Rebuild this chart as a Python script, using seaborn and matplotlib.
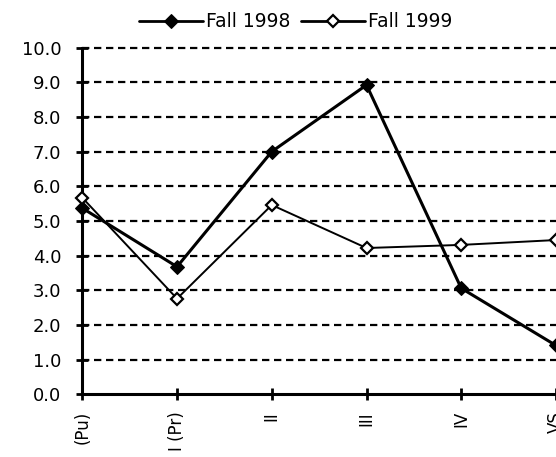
import matplotlib
matplotlib.use("Agg")
import matplotlib.pyplot as plt
import seaborn as sns
import pandas as pd

categories = ["(Pu)", "I (Pr)", "II", "III", "IV", "VS"]
fall_1998 = [5.37, 3.68, 7.0, 8.92, 3.06, 1.41]
fall_1999 = [5.67, 2.76, 5.46, 4.22, 4.31, 4.45]
y_ticks = [0, 1, 2, 3, 4, 5, 6, 7, 8, 9, 10]

sns.set_theme(style="white")
plt.rcParams['font.family'] = ['DejaVu Sans']
plt.rcParams['text.color'] = 'black'

df = pd.DataFrame({
    "cat": list(range(len(categories))) * 2,
    "value": fall_1998 + fall_1999,
    "series": ["Fall 1998"] * len(categories) + ["Fall 1999"] * len(categories),
})

fig = plt.figure(figsize=(5.56, 4.57), dpi=100)
ax = fig.add_axes([0.148, 0.137, 0.852, 0.759])

for yv in y_ticks[1:]:
    ax.axhline(yv, color="black", lw=1.6, ls=(0, (3.3, 2.1)), zorder=1, clip_on=False)

d98 = df[df.series == "Fall 1998"]
d99 = df[df.series == "Fall 1999"]
sns.lineplot(data=d98, x="cat", y="value", ax=ax, color="black", lw=2.2,
             marker="D", markersize=7.5, markerfacecolor="black",
             markeredgecolor="black", label="Fall 1998", zorder=6, clip_on=False)
sns.lineplot(data=d99, x="cat", y="value", ax=ax, color="black", lw=1.4,
             marker="D", markersize=6.5, markerfacecolor="white",
             markeredgecolor="black", markeredgewidth=1.6, label="Fall 1999", zorder=7,
             clip_on=False)

ax.set_xlim(0, 5)
ax.set_ylim(0, 10)
ax.set_xticks(range(len(categories)))
ax.set_xticklabels(categories, rotation=90, fontsize=12)
ax.set_yticks(y_ticks)
ax.set_yticklabels([f"{v:.1f}" for v in y_ticks], fontsize=13)
ax.set_xlabel("")
ax.set_ylabel("")
for s in ["top", "right"]:
    ax.spines[s].set_visible(False)
for s in ["left", "bottom"]:
    ax.spines[s].set_color("black")
    ax.spines[s].set_linewidth(2.2)
    ax.spines[s].set_zorder(5)
ax.tick_params(axis="both", direction="inout", length=8, width=2, color="black",
               labelcolor="black", left=True, bottom=True)
ax.tick_params(axis="x", pad=8)
ax.tick_params(axis="y", pad=11)
ax.grid(False)

leg = ax.legend(loc="center", bbox_to_anchor=(0.532, 0.952), bbox_transform=fig.transFigure,
                ncol=2, frameon=False, fontsize=13.5, handlelength=3.4,
                handletextpad=0.15, columnspacing=0.6, borderpad=0)
for t in leg.get_texts():
    t.set_color("black")
for l in leg.get_lines():
    l.set_linewidth(2)

fig.savefig("out.png", dpi=100)
